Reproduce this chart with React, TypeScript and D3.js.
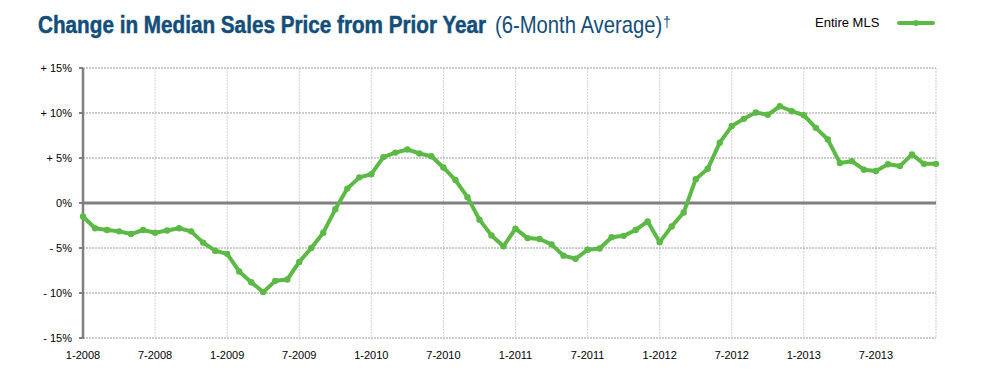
import React from "react";
import * as d3 from "d3";

const months: string[] = d3.range(72).map((i) => `${(i % 12) + 1}-${2008 + Math.floor(i / 12)}`);

const entireMLS: number[] = [
  -1.5, -2.8, -3.0, -3.15, -3.45, -3.0, -3.3, -3.05, -2.8, -3.15,
  -4.4, -5.3, -5.65, -7.6, -8.8, -9.9, -8.65, -8.5, -6.55, -5.0,
  -3.3, -0.7, 1.6, 2.85, 3.2, 5.1, 5.6, 5.95, 5.5, 5.2,
  3.95, 2.55, 0.65, -1.85, -3.6, -4.8, -2.85, -3.9, -4.0, -4.6,
  -5.85, -6.2, -5.2, -5.05, -3.8, -3.65, -3.0, -2.05, -4.35, -2.6,
  -1.05, 2.65, 3.8, 6.7, 8.55, 9.35, 10.05, 9.8, 10.75, 10.2,
  9.75, 8.35, 7.05, 4.45, 4.65, 3.7, 3.55, 4.3, 4.1, 5.4,
  4.35, 4.35,
];

const yTicks: number[] = [15, 10, 5, 0, -5, -10, -15];
const yTickLabels: string[] = ["+ 15%", "+ 10%", "+ 5%", "0%", "- 5%", "- 10%", "- 15%"];
const xTickIdx: number[] = [0, 6, 12, 18, 24, 30, 36, 42, 48, 54, 60, 66];

const W = 990;
const H = 373;
const left = 83;
const right = 936;
const top = 68;
const bottom = 338;

export default function App() {
  const x = d3.scaleLinear().domain([0, 71]).range([left, right]);
  const y = d3.scaleLinear().domain([-15, 15]).range([bottom, top]);
  const line = d3
    .line<number>()
    .x((_, i) => x(i))
    .y((d) => y(d));
  const font = "Arial, 'Liberation Sans', Helvetica, sans-serif";
  const titleColor = "#134e7a";
  return (
    <svg
      width={W}
      height={H}
      style={{ position: "absolute", left: 0, top: 0, background: "#fff" }}
    >
      <g transform="translate(38,33) scale(0.9,1)">
        <text
          x={0}
          y={0}
          fontFamily={font}
          fontWeight="bold"
          fill={titleColor}
          stroke={titleColor}
          strokeWidth={0.5}
          fontSize={23}
        >
          Change in Median Sales Price from Prior Year
        </text>
      </g>
      <g transform="translate(495,33) scale(0.88,1)">
        <text x={0} y={0} fontFamily={font} fill={titleColor} fontSize={23}>
          (6-Month Average)
        </text>
      </g>
      <text x={663} y={27} fontFamily={font} fill={titleColor} fontSize={14}>
        †
      </text>

      {/* legend */}
      <text x={815} y={27} fontFamily={font} fontSize={13} fill="#000">
        Entire MLS
      </text>
      <line x1={899} x2={933} y1={23} y2={23} stroke="#5cb946" strokeWidth={4} strokeLinecap="round" />
      <circle cx={916} cy={23} r={3} fill="#5cb946" />

      {/* vertical gridlines */}
      {xTickIdx.slice(1).map((i) => (
        <line
          key={"vg" + i}
          x1={x(i)}
          x2={x(i)}
          y1={top}
          y2={bottom}
          stroke="#d4d4d4"
          strokeWidth={1}
          strokeDasharray="2,1"
        />
      ))}
      <line x1={right} x2={right} y1={top} y2={bottom} stroke="#c8c8c8" strokeWidth={1} strokeDasharray="2,1" />

      {/* horizontal gridlines */}
      {yTicks
        .filter((t) => t !== 0)
        .map((t) => (
          <line
            key={"hg" + t}
            x1={left}
            x2={right}
            y1={y(t)}
            y2={y(t)}
            stroke="#9a9a9a"
            strokeWidth={1}
            strokeDasharray="2,1"
          />
        ))}

      {/* zero line */}
      <line x1={left} x2={right} y1={y(0)} y2={y(0)} stroke="#808080" strokeWidth={3} />

      {/* y axis */}
      <line x1={left} x2={left} y1={top} y2={bottom + 1} stroke="#808080" strokeWidth={2.5} />
      {yTicks.map((t, i) => (
        <g key={"yt" + t}>
          <line x1={left - 4} x2={left} y1={y(t)} y2={y(t)} stroke="#808080" strokeWidth={2} />
          <text
            x={72}
            y={y(t) + 4}
            textAnchor="end"
            fontFamily={font}
            fontSize={11}
            fill="#000"
          >
            {yTickLabels[i]}
          </text>
        </g>
      ))}

      {/* x labels */}
      {xTickIdx.map((i) => (
        <text
          key={"xt" + i}
          x={x(i)}
          y={359}
          textAnchor="middle"
          fontFamily={font}
          fontSize={11}
          fill="#000"
        >
          {months[i]}
        </text>
      ))}

      {/* series */}
      <path
        d={line(entireMLS) || ""}
        fill="none"
        stroke="#5cb946"
        strokeWidth={4}
        strokeLinejoin="round"
        strokeLinecap="round"
      />
      {entireMLS.map((v, i) => (
        <circle key={"p" + i} cx={x(i)} cy={y(v)} r={3.2} fill="#5cb946" />
      ))}
    </svg>
  );
}
